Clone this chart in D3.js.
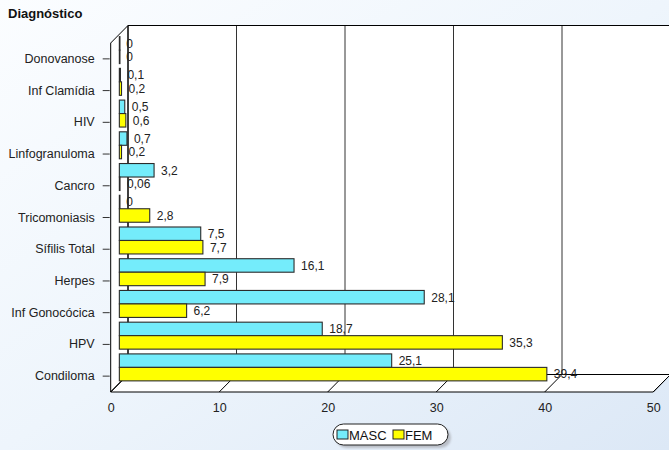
<!DOCTYPE html>
<html>
<head>
<meta charset="utf-8">
<script src="https://cdn.jsdelivr.net/npm/d3@7"></script>
<style>
  html, body { margin: 0; padding: 0; overflow: hidden; }
  svg { display: block; font-family: "Liberation Sans", Arial, sans-serif; }
</style>
</head>
<body>
<svg id="chart" width="669" height="450"></svg>
<script>
// Diagnoses (top to bottom) and percentages by sex
const categories = ["Donovanose", "Inf Clamídia", "HIV", "Linfogranuloma", "Cancro",
  "Tricomoniasis", "Sífilis Total", "Herpes", "Inf Gonocócica", "HPV", "Condiloma"];
const masc = [0, 0.1, 0.5, 0.7, 3.2, 0, 7.5, 16.1, 28.1, 18.7, 25.1];
const fem  = [0, 0.2, 0.6, 0.2, 0.06, 2.8, 7.7, 7.9, 6.2, 35.3, 39.4];
const seriesNames = ["MASC", "FEM"];
const xTicks = [0, 10, 20, 30, 40, 50];

const colors = { MASC: "#74ecfb", FEM: "#ffff00" };

const svg = d3.select("#chart");
const W = 669, H = 450;

// background gradient
const defs = svg.append("defs");
const grad = defs.append("linearGradient").attr("id", "bg")
  .attr("x1", "0").attr("y1", "0").attr("x2", "1").attr("y2", "1");
grad.append("stop").attr("offset", "0").attr("stop-color", "#fbfdff");
grad.append("stop").attr("offset", "0.5").attr("stop-color", "#eef5fc");
grad.append("stop").attr("offset", "1").attr("stop-color", "#dce8f6");
const blur = defs.append("filter").attr("id", "soft");
blur.append("feGaussianBlur").attr("stdDeviation", 1.2);
svg.append("rect").attr("width", W).attr("height", H).attr("fill", "url(#bg)");

// pseudo-3D box geometry
const front = { left: 110.7, top: 43, bottom: 392, width: 542.5 };
const depth = { dx: 17.3, dy: -17.5 };

const xFront = d3.scaleLinear().domain([0, 50]).range([front.left, front.left + front.width]);
const xBack = v => xFront(v) + depth.dx;
const xMid = v => xFront(v) + depth.dx / 2;
const y = d3.scaleBand().domain(categories).range([front.top, front.bottom]);
const yBack = v => v + depth.dy;

const g = svg.append("g");

// back wall
const backL = xBack(0), backR = xBack(50);
g.append("rect").attr("x", backL).attr("y", yBack(front.top))
  .attr("width", backR - backL).attr("height", front.bottom - front.top)
  .attr("fill", "#fff");
// left wall
g.append("polygon").attr("points", [
  [front.left, front.top], [backL, yBack(front.top)],
  [backL, yBack(front.bottom)], [front.left, front.bottom]].join(" "))
  .attr("fill", "#fff").attr("stroke", "#000").attr("stroke-width", 1);
// floor
g.append("polygon").attr("points", [
  [front.left, front.bottom], [xFront(50), front.bottom],
  [backR, yBack(front.bottom)], [backL, yBack(front.bottom)]].join(" "))
  .attr("fill", "#fff").attr("stroke", "#000").attr("stroke-width", 1);

// grid lines: vertical on back wall, diagonal across floor
xTicks.forEach(v => {
  g.append("line").attr("x1", xBack(v)).attr("x2", xBack(v))
    .attr("y1", yBack(front.top)).attr("y2", yBack(front.bottom))
    .attr("stroke", v === 0 ? "#000" : "#333").attr("stroke-width", 1);
  g.append("line").attr("x1", xFront(v)).attr("x2", xBack(v))
    .attr("y1", front.bottom).attr("y2", yBack(front.bottom))
    .attr("stroke", "#000").attr("stroke-width", 1);
});
// top edge of back wall
g.append("line").attr("x1", backL).attr("x2", backR)
  .attr("y1", yBack(front.top)).attr("y2", yBack(front.top))
  .attr("stroke", "#000").attr("stroke-width", 1.2);

// category axis on the front-left edge
const yAxis = d3.axisLeft(y).tickSize(7).tickPadding(8);
const yAx = svg.append("g").attr("transform", `translate(${front.left - 1},0)`).call(yAxis);
yAx.select(".domain").remove();
yAx.selectAll(".tick line").attr("stroke", "#333");
yAx.selectAll(".tick text").attr("font-size", 12.5).attr("fill", "#222")
  .attr("font-family", "'Liberation Sans', Arial, sans-serif");

// value axis labels under the floor
const xAxis = d3.axisBottom(xFront).tickValues(xTicks).tickSize(0).tickPadding(11)
  .tickFormat(d3.format("d"));
const xAx = svg.append("g").attr("transform", `translate(0,${front.bottom})`).call(xAxis);
xAx.select(".domain").remove();
xAx.selectAll(".tick text").attr("font-size", 12.5).attr("fill", "#222")
  .attr("font-family", "'Liberation Sans', Arial, sans-serif");

// bars sit on the middle depth plane
const pairH = y.bandwidth() * 0.85;
const barH = pairH / 2;
const barTop = (cat, s) => y(cat) + depth.dy / 2 + (y.bandwidth() - pairH) / 2 + s * barH;
const fmt = v => String(v).replace(".", ",");

const rows = categories.map((c, i) => ({ cat: c, vals: [masc[i], fem[i]] }));
const bars = svg.append("g");
rows.forEach(r => {
  r.vals.forEach((v, s) => {
    const name = seriesNames[s];
    const w = xMid(v) - xMid(0);
    bars.append("rect")
      .attr("x", xMid(0)).attr("y", barTop(r.cat, s))
      .attr("width", Math.max(w, 0.6)).attr("height", barH)
      .attr("fill", colors[name]).attr("stroke", "#2b2b2b").attr("stroke-width", 1.1);
    bars.append("text")
      .attr("x", xMid(v) + 7).attr("y", barTop(r.cat, s) + barH / 2)
      .attr("dy", "0.36em").attr("font-size", 12).attr("fill", "#222")
      .text(fmt(v));
  });
});

// legend
const lg = svg.append("g").attr("transform", "translate(333,424)");
lg.append("rect").attr("x", 3).attr("y", 3).attr("width", 115).attr("height", 21)
  .attr("rx", 10.5).attr("fill", "#b9bec6").attr("filter", "url(#soft)");
lg.append("rect").attr("x", 0).attr("y", 0).attr("width", 115).attr("height", 21)
  .attr("rx", 10.5).attr("fill", "#fff").attr("stroke", "#222").attr("stroke-width", 1);
const legItems = [{ name: "MASC", x: 4 }, { name: "FEM", x: 60 }];
legItems.forEach(it => {
  lg.append("rect").attr("x", it.x).attr("y", 6).attr("width", 11).attr("height", 9)
    .attr("fill", colors[it.name]).attr("stroke", "#222").attr("stroke-width", 1);
  lg.append("text").attr("x", it.x + 12).attr("y", 15.5)
    .attr("font-size", 13).attr("fill", "#111").text(it.name);
});

// title
svg.append("text").attr("x", 8).attr("y", 18).attr("font-size", 13)
  .attr("font-weight", "bold").attr("fill", "#111").text("Diagnóstico");

// total, mostly below the bottom edge
svg.append("text").attr("x", 566).attr("y", 460).attr("text-anchor", "middle")
  .attr("font-size", 15).attr("font-weight", "bold").attr("fill", "#111").text("0,000");
</script>
</body>
</html>
